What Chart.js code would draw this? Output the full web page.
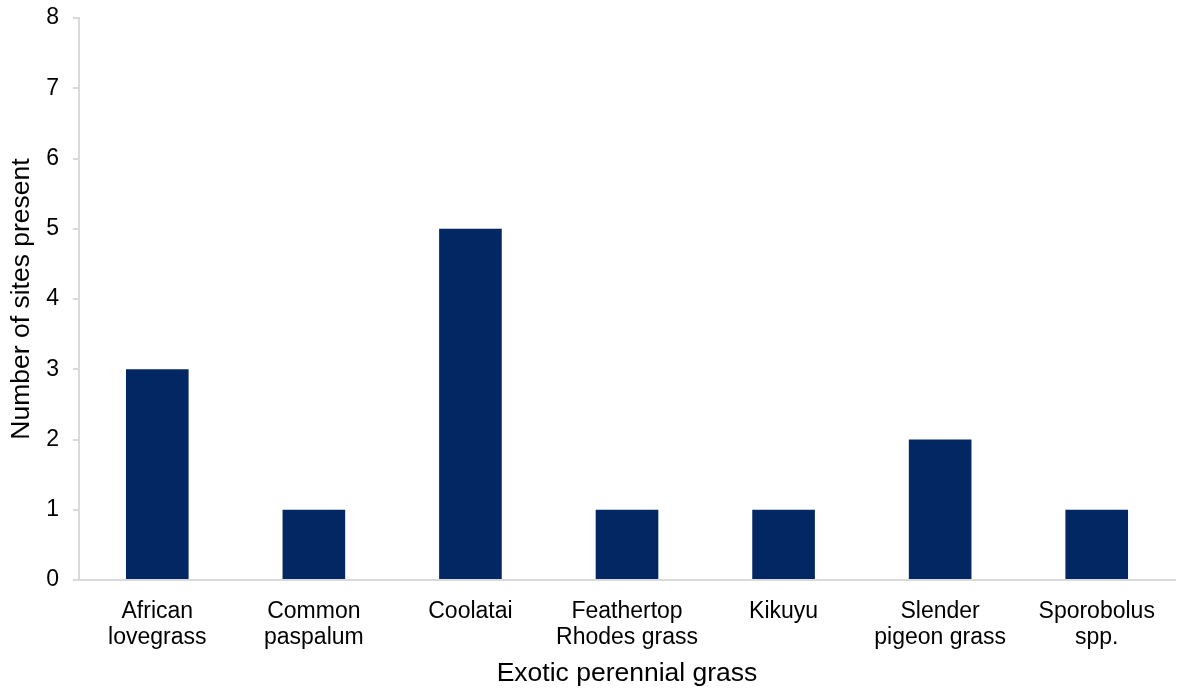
<!DOCTYPE html>
<html>
<head>
<meta charset="utf-8">
<script src="https://cdn.jsdelivr.net/npm/chart.js@4"></script>
<style>
  html, body { margin: 0; padding: 0; background: #fff; }
  #wrap { width: 1179px; height: 691px; }
</style>
</head>
<body>
<div id="wrap"><canvas id="graphique"></canvas></div>
<script>
// grass species and how many sites each was found at
const especes = [
    ["African", "lovegrass"],
    ["Common", "paspalum"],
    "Coolatai",
    ["Feathertop", "Rhodes grass"],
    "Kikuyu",
    ["Slender", "pigeon grass"],
    ["Sporobolus", "spp."]
];
const nbSites = [3, 1, 5, 1, 1, 2, 1];
const ticksY = [0, 1, 2, 3, 4, 5, 6, 7, 8];

const police = "'Liberation Sans', Arial, sans-serif";
const gris = "#d9d9d9";

new Chart(document.querySelector("#graphique"), {
    type: "bar",
    data: {
        labels: especes,
        datasets: [{
            data: nbSites,
            backgroundColor: "#022763",
            barPercentage: 0.4,
            categoryPercentage: 1
        }]
    },
    options: {
        responsive: true,
        maintainAspectRatio: false,
        animation: false,
        layout: { padding: { top: 18, right: 4, left: 0, bottom: 0 } },
        plugins: { legend: { display: false }, tooltip: { enabled: false } },
        scales: {
            x: {
                grid: { display: false },
                border: { display: true, color: gris, width: 2 },
                ticks: { color: "#000", font: { family: police, size: 23, lineHeight: 1.13 }, padding: 11, maxRotation: 0, autoSkip: false },
                title: { display: true, text: "Exotic perennial grass", color: "#000", font: { family: police, size: 26.5 }, padding: { top: 4, bottom: 1 } },
                afterFit: (axe) => { axe.height = 111; }
            },
            y: {
                min: 0,
                max: 8,
                afterBuildTicks: (axe) => { axe.ticks = ticksY.map(v => ({ value: v })); },
                grid: { display: true, drawOnChartArea: false, drawTicks: true, tickLength: 6, color: gris, lineWidth: 2 },
                border: { display: true, color: gris, width: 2 },
                ticks: { color: "#000", font: { family: police, size: 23 }, padding: 14 },
                title: { display: true, text: "Number of sites present", color: "#000", font: { family: police, size: 26.5 }, padding: { top: 6, bottom: 4 } },
                afterFit: (axe) => { axe.width = 79; axe.paddingTop = 0; axe.paddingBottom = 0; }
            }
        }
    }
});
</script>
</body>
</html>
